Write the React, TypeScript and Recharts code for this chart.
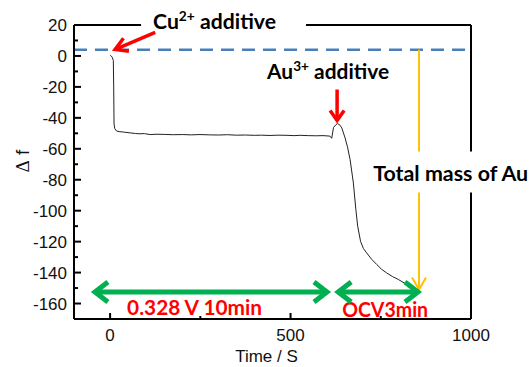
import { LineChart, Line, XAxis, YAxis, ReferenceLine, ReferenceDot } from 'recharts'

// time (s) and frequency shift
const timeS = [
  0, 2, 6, 9, 10, 11, 13, 18, 25, 37, 55, 70, 80, 95, 111, 130, 150, 175, 200, 225, 249, 275, 300, 325,
  350, 375, 400, 420, 443, 465, 490, 510, 526, 550, 570, 590, 609, 614, 619, 625, 630, 636, 642, 651,
  658, 665, 674, 681, 686, 694, 702, 711, 725, 739, 752, 766, 782, 799, 822, 839,
]
const deltaF = [
  0.3, 0.2, -0.8, -3, -20, -44, -47, -48.5, -48.9, -49.2, -49.7, -50.1, -50.3, -50.2, -50.8, -50.6, -50.7,
  -50.9, -50.8, -51.0, -50.8, -51.0, -51.1, -50.9, -51.2, -51.1, -51.3, -51.2, -51.4, -51.2, -51.3, -51.5,
  -51.3, -51.5, -51.6, -51.5, -51.8, -53.2, -46.3, -44.6, -43.7, -44.5, -46.5, -52.9, -59, -67, -82, -99.3,
  -110, -119.8, -124.5, -127.3, -131.5, -134.8, -137.8, -140.2, -142.5, -144.5, -147.7, -149.9,
]

const xTicks = [0, 250, 500, 750, 1000]
const xLabels = [0, 500, 1000]
const yTicks = [
  -160, -150, -140, -130, -120, -110, -100, -90, -80, -70, -60, -50, -40, -30, -20, -10, 0, 10, 20,
]
const yLabels = [-160, -140, -120, -100, -80, -60, -40, -20, 0, 20]

const baseLevel = 4

// annotation arrows: [tailT, tailF, headT, headF]
const cuArrow = [125, 15.2, 14, 4.2]
const auArrow = [629, -21.7, 629, -41.7]
const totalArrow = [856, 4, 856, -151]
const potArrow = [-42, -152.5, 601, -152.5]
const ocvArrow = [632, -152.5, 853, -152.5]

// annotation text anchors (left, baseline)
const cuText = [119, 17.7]
const auText = [435, -14.6]
const totalText = [729, -80.5]
const potText = [47, -167.1]
const ocvText = [643, -168.4]

const data = timeS.map((t, i) => ({ t, df: deltaF[i] }))

const tickFont = { fontFamily: 'Liberation Sans, Arial, sans-serif', fontSize: 17, fill: '#111' }
const noteFont = 'Lato, sans-serif'

const leftTick = (p: any) => {
  const v = p.payload.value
  const major = yLabels.includes(v)
  return (
    <g>
      <line x1={p.x} x2={p.x + (major ? 7 : 4)} y1={p.y} y2={p.y} stroke="#000" strokeWidth={2} />
      {major && (
        <text x={p.x - 7} y={p.y + 6} textAnchor="end" {...tickFont}>
          {v}
        </text>
      )}
    </g>
  )
}

const rightTick = (p: any) => {
  const major = yLabels.includes(p.payload.value)
  return <line x1={p.x} x2={p.x - (major ? 7 : 4)} y1={p.y} y2={p.y} stroke="#000" strokeWidth={2} />
}

const bottomTick = (p: any) => {
  const v = p.payload.value
  const major = xLabels.includes(v)
  return (
    <g>
      <line x1={p.x} x2={p.x} y1={p.y} y2={p.y - (major ? 6 : 3)} stroke="#000" strokeWidth={2} />
      {major && (
        <text x={p.x} y={p.y + 22} textAnchor="middle" {...tickFont}>
          {v}
        </text>
      )}
    </g>
  )
}

const topTick = (p: any) => {
  const major = xLabels.includes(p.payload.value)
  return <line x1={p.x} x2={p.x} y1={p.y} y2={p.y + (major ? 6 : 3)} stroke="#000" strokeWidth={2} />
}

const arrow = (color: string, w: number, len: number, spread: number, both = false) => (p: any) => {
  const { x1, y1, x2, y2 } = p
  const d = Math.hypot(x2 - x1, y2 - y1) || 1
  const ux = (x2 - x1) / d
  const uy = (y2 - y1) / d
  const head = (hx: number, hy: number, sx: number, sy: number) =>
    `M${hx - len * sx + spread * sy},${hy - len * sy - spread * sx} L${hx},${hy} L${hx - len * sx - spread * sy},${hy - len * sy + spread * sx}`
  const trim = w * 0.8
  return (
    <g>
      <line
        x1={both ? x1 + ux * trim : x1}
        y1={both ? y1 + uy * trim : y1}
        x2={x2 - ux * trim}
        y2={y2 - uy * trim}
        stroke={color}
        strokeWidth={w}
      />
      <path d={head(x2, y2, ux, uy)} fill="none" stroke={color} strokeWidth={w} strokeLinejoin="miter" />
      {both && <path d={head(x1, y1, -ux, -uy)} fill="none" stroke={color} strokeWidth={w} />}
    </g>
  )
}

const note =
  (parts: any, size: number, color: string, width: number, bg?: number[]) =>
  (p: any) => (
    <g>
      {bg && <rect x={p.cx + bg[0]} y={p.cy + bg[1]} width={bg[2]} height={bg[3]} fill="#fff" />}
      <text
        x={p.cx}
        y={p.cy}
        fontFamily={noteFont}
        fontWeight={700}
        fontSize={size}
        fill={color}
        textLength={width}
        lengthAdjust="spacingAndGlyphs"
      >
        {parts}
      </text>
    </g>
  )

const ion = (el: string, charge: string) => [
  <tspan key="a">{el}</tspan>,
  <tspan key="b" fontSize={13} dy={-8}>
    {charge}
  </tspan>,
  <tspan key="c" dy={8}>
    {' additive'}
  </tspan>,
]

const yTitle = (p: any) => {
  const vb = p.viewBox
  const cx = vb.x + 19
  const cy = vb.y + vb.height / 2 - 11
  return (
    <text x={cx} y={cy} transform={`rotate(-90 ${cx} ${cy})`} textAnchor="middle" dy={6} fontSize={19} fill="#111">
      <tspan fontFamily="Liberation Serif, serif">Δ</tspan>
      <tspan fontFamily="Liberation Sans, sans-serif"> f</tspan>
    </text>
  )
}

const xTitle = (p: any) => {
  const vb = p.viewBox
  return (
    <text x={vb.x + vb.width / 2 - 6} y={vb.y + 43} textAnchor="middle" {...tickFont}>
      Time / S
    </text>
  )
}

const seg = (a: number[]) => [
  { x: a[0], y: a[1] },
  { x: a[2], y: a[3] },
]

const App = () => {
  const ax = { xAxisId: 'b', yAxisId: 'l' }
  return (
    <div style={{ position: 'absolute', left: 0, top: 0 }}>
      <LineChart width={529} height={367} data={data} margin={{ top: 15, right: 48, bottom: 18, left: 4 }}>
        <XAxis
          xAxisId="b"
          dataKey="t"
          type="number"
          domain={[-100, 1000]}
          ticks={xTicks}
          interval={0}
          tickSize={0}
          tickMargin={0}
          tickLine={false}
          tick={bottomTick}
          height={30}
          axisLine={{ stroke: '#000', strokeWidth: 2 }}
          label={{ content: xTitle }}
        />
        <XAxis
          xAxisId="t"
          orientation="top"
          type="number"
          domain={[-100, 1000]}
          ticks={xTicks.slice(0, 4)}
          interval={0}
          tickSize={0}
          tickMargin={0}
          tickLine={false}
          tick={topTick}
          height={10}
          axisLine={{ stroke: '#000', strokeWidth: 2 }}
        />
        <YAxis
          yAxisId="l"
          type="number"
          domain={[-170, 20]}
          ticks={yTicks}
          interval={0}
          tickSize={0}
          tickMargin={0}
          tickLine={false}
          tick={leftTick}
          width={70}
          axisLine={{ stroke: '#000', strokeWidth: 2 }}
          label={{ content: yTitle }}
        />
        <YAxis
          yAxisId="r"
          orientation="right"
          type="number"
          domain={[-170, 20]}
          ticks={yTicks}
          interval={0}
          tickSize={0}
          tickMargin={0}
          tickLine={false}
          tick={rightTick}
          width={10}
          axisLine={{ stroke: '#000', strokeWidth: 2 }}
        />
        <ReferenceLine {...ax} y={baseLevel} stroke="#4a7ebb" strokeWidth={2.5} strokeDasharray="13 8" />
        <Line
          {...ax}
          dataKey="df"
          type="linear"
          stroke="#222"
          strokeWidth={1}
          dot={false}
          isAnimationActive={false}
        />
        <ReferenceDot {...ax} x={cuText[0]} y={cuText[1]} ifOverflow="visible" zIndex={1000}
          shape={note(ion('Cu', '2+'), 20, '#000', 123, [-12, -21, 165, 34])} />
        <ReferenceDot {...ax} x={totalText[0]} y={totalText[1]} ifOverflow="visible" zIndex={1000}
          shape={note('Total mass of Au', 20, '#000', 155, [-8, -29, 170, 41])} />
        <ReferenceDot {...ax} x={auText[0]} y={auText[1]} ifOverflow="visible" zIndex={1000}
          shape={note(ion('Au', '3+'), 20, '#000', 122)} />
        <ReferenceDot {...ax} x={potText[0]} y={potText[1]} ifOverflow="visible" zIndex={1000}
          shape={note('0.328 V 10min', 21, '#ff0000', 135)} />
        <ReferenceDot {...ax} x={ocvText[0]} y={ocvText[1]} ifOverflow="visible" zIndex={1000}
          shape={note('OCV3min', 21, '#ff0000', 86)} />
        <ReferenceLine {...ax} segment={seg(cuArrow)} ifOverflow="visible" zIndex={1100} shape={arrow('#ff0000', 3.5, 12, 7)} />
        <ReferenceLine {...ax} segment={seg(auArrow)} ifOverflow="visible" zIndex={1100} shape={arrow('#ff0000', 3.5, 10, 7)} />
        <ReferenceLine {...ax} segment={seg(totalArrow)} ifOverflow="visible" zIndex={900} shape={arrow('#ffc000', 2, 12, 7)} />
        <ReferenceLine {...ax} segment={seg(potArrow)} ifOverflow="visible" zIndex={1100} shape={arrow('#00b050', 5, 13, 10, true)} />
        <ReferenceLine {...ax} segment={seg(ocvArrow)} ifOverflow="visible" zIndex={1100} shape={arrow('#00b050', 5, 13, 10, true)} />
      </LineChart>
    </div>
  )
}

export default App
